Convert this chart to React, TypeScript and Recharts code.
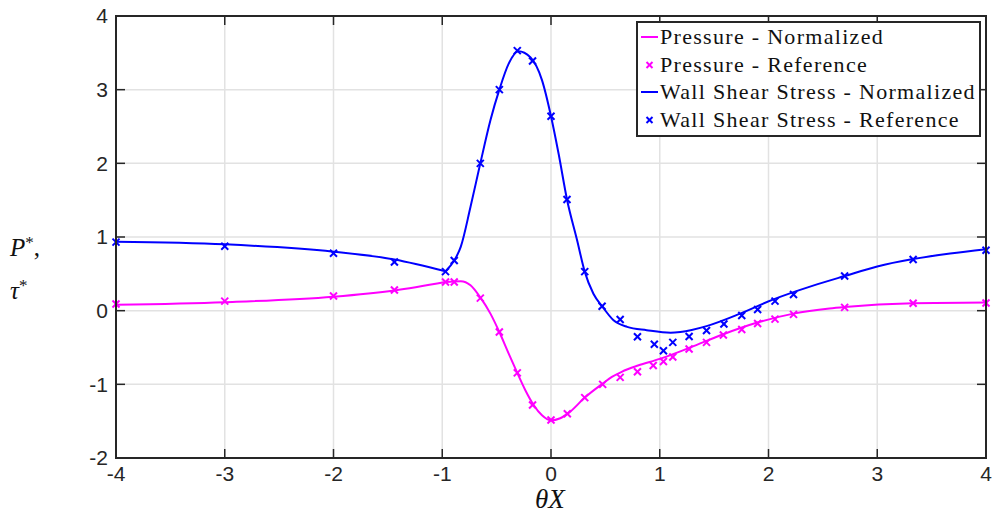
import {
  CartesianGrid,
  ComposedChart,
  Line,
  Scatter,
  XAxis,
  YAxis,
} from "recharts";

const xTicks = [-4, -3, -2, -1, 0, 1, 2, 3, 4];
const yTicks = [-2, -1, 0, 1, 2, 3, 4];

// Wall shear stress, normalized curve (split at the kink near x = -0.97)
const shearLineLeft = [
  { x: -4, y: 0.935 },
  { x: -3, y: 0.9 },
  { x: -2, y: 0.8 },
  { x: -1.44, y: 0.695 },
  { x: -0.97, y: 0.535 },
];
const shearLineRight = [
  { x: -0.97, y: 0.535 },
  { x: -0.89, y: 0.68 },
  { x: -0.83, y: 0.865 },
  { x: -0.74, y: 1.41 },
  { x: -0.65, y: 2.0 },
  { x: -0.557, y: 2.585 },
  { x: -0.475, y: 3.0 },
  { x: -0.39, y: 3.35 },
  { x: -0.3, y: 3.52 },
  { x: -0.19, y: 3.44 },
  { x: -0.083, y: 3.13 },
  { x: 0, y: 2.64 },
  { x: 0.07, y: 2.13 },
  { x: 0.147, y: 1.51 },
  { x: 0.24, y: 0.957 },
  { x: 0.31, y: 0.53 },
  { x: 0.39, y: 0.23 },
  { x: 0.47, y: 0.06 },
  { x: 0.575, y: -0.13 },
  { x: 0.7, y: -0.22 },
  { x: 0.88, y: -0.265 },
  { x: 1.1, y: -0.3 },
  { x: 1.19, y: -0.29 },
  { x: 1.43, y: -0.21 },
  { x: 1.74, y: -0.04 },
  { x: 2.04, y: 0.15 },
  { x: 2.41, y: 0.34 },
  { x: 2.7, y: 0.47 },
  { x: 3.0, y: 0.6 },
  { x: 3.33, y: 0.7 },
  { x: 3.67, y: 0.776 },
  { x: 4, y: 0.835 },
];
const shearRef = [
  { x: -4, y: 0.93 },
  { x: -3, y: 0.875 },
  { x: -2, y: 0.78 },
  { x: -1.44, y: 0.66 },
  { x: -0.97, y: 0.53 },
  { x: -0.89, y: 0.68 },
  { x: -0.65, y: 2.0 },
  { x: -0.475, y: 3.0 },
  { x: -0.31, y: 3.53 },
  { x: -0.17, y: 3.39 },
  { x: 0, y: 2.64 },
  { x: 0.147, y: 1.51 },
  { x: 0.31, y: 0.53 },
  { x: 0.47, y: 0.06 },
  { x: 0.636, y: -0.12 },
  { x: 0.795, y: -0.355 },
  { x: 0.95, y: -0.455 },
  { x: 1.034, y: -0.545 },
  { x: 1.12, y: -0.43 },
  { x: 1.27, y: -0.35 },
  { x: 1.43, y: -0.27 },
  { x: 1.59, y: -0.18 },
  { x: 1.754, y: -0.065 },
  { x: 1.9, y: 0.016 },
  { x: 2.06, y: 0.13 },
  { x: 2.23, y: 0.22 },
  { x: 2.7, y: 0.47 },
  { x: 3.33, y: 0.695 },
  { x: 4, y: 0.82 },
];

// Pressure, normalized curve
const pressureLineLeft = [
  { x: -4, y: 0.08 },
  { x: -3, y: 0.115 },
  { x: -2, y: 0.19 },
  { x: -1.44, y: 0.275 },
  { x: -0.97, y: 0.39 },
];
const pressureLineRight = [
  { x: -0.97, y: 0.39 },
  { x: -0.83, y: 0.4 },
  { x: -0.74, y: 0.345 },
  { x: -0.65, y: 0.18 },
  { x: -0.557, y: -0.04 },
  { x: -0.475, y: -0.29 },
  { x: -0.39, y: -0.58 },
  { x: -0.31, y: -0.845 },
  { x: -0.236, y: -1.08 },
  { x: -0.16, y: -1.28 },
  { x: -0.083, y: -1.42 },
  { x: 0, y: -1.49 },
  { x: 0.085, y: -1.46 },
  { x: 0.177, y: -1.37 },
  { x: 0.31, y: -1.18 },
  { x: 0.475, y: -0.99 },
  { x: 0.56, y: -0.9 },
  { x: 0.65, y: -0.83 },
  { x: 0.8, y: -0.745 },
  { x: 1.0, y: -0.655 },
  { x: 1.28, y: -0.5 },
  { x: 1.585, y: -0.32 },
  { x: 1.89, y: -0.165 },
  { x: 2.23, y: -0.04 },
  { x: 2.56, y: 0.03 },
  { x: 2.7, y: 0.05 },
  { x: 3.33, y: 0.1 },
  { x: 4, y: 0.11 },
];
const pressureRef = [
  { x: -4, y: 0.09 },
  { x: -3, y: 0.13 },
  { x: -2, y: 0.2 },
  { x: -1.44, y: 0.28 },
  { x: -0.97, y: 0.39 },
  { x: -0.89, y: 0.39 },
  { x: -0.65, y: 0.17 },
  { x: -0.475, y: -0.29 },
  { x: -0.31, y: -0.845 },
  { x: -0.17, y: -1.28 },
  { x: 0, y: -1.485 },
  { x: 0.15, y: -1.4 },
  { x: 0.31, y: -1.18 },
  { x: 0.475, y: -1.0 },
  { x: 0.636, y: -0.905 },
  { x: 0.795, y: -0.83 },
  { x: 0.94, y: -0.745 },
  { x: 1.034, y: -0.69 },
  { x: 1.12, y: -0.63 },
  { x: 1.27, y: -0.52 },
  { x: 1.43, y: -0.43 },
  { x: 1.585, y: -0.33 },
  { x: 1.754, y: -0.255 },
  { x: 1.9, y: -0.175 },
  { x: 2.06, y: -0.115 },
  { x: 2.23, y: -0.05 },
  { x: 2.7, y: 0.045 },
  { x: 3.33, y: 0.1 },
  { x: 4, y: 0.105 },
];

const MAGENTA = "#ff00ff";
const BLUE = "#0000ff";
const AXIS = "#262626";
const serif = "'Liberation Serif', 'DejaVu Serif', serif";

// plot box (margin + axis sizes below)
const W = 995;
const H = 518;
const MARGIN = { top: 16, right: 9, left: 0, bottom: 0 };
const Y_AXIS_W = 116;
const X_AXIS_H = 60;
const plotLeft = MARGIN.left + Y_AXIS_W;
const plotRight = W - MARGIN.right;
const plotTop = MARGIN.top;
const plotBottom = H - MARGIN.bottom - X_AXIS_H;

function xMark(color: string, r: number) {
  return (props: any) => {
    const { cx, cy } = props;
    if (cx == null || cy == null) return <g />;
    return (
      <g stroke={color} strokeWidth={2}>
        <line x1={cx - r} y1={cy - r} x2={cx + r} y2={cy + r} />
        <line x1={cx - r} y1={cy + r} x2={cx + r} y2={cy - r} />
      </g>
    );
  };
}

// MATLAB-style box: dark frame around the plot with inward ticks on top and right
function BoxEdges() {
  const px = (v: number) => plotLeft + ((v + 4) / 8) * (plotRight - plotLeft);
  const py = (v: number) => plotBottom - ((v + 2) / 6) * (plotBottom - plotTop);
  return (
    <>
      <div
        style={{
          position: "absolute",
          left: plotLeft - 1,
          top: plotTop - 1,
          width: plotRight - plotLeft + 2,
          height: plotBottom - plotTop + 2,
          border: `2px solid ${AXIS}`,
          boxSizing: "border-box",
          zIndex: 2,
          pointerEvents: "none",
        }}
      />
      <svg
        width={W}
        height={H}
        style={{ position: "absolute", left: 0, top: 0, zIndex: 2, pointerEvents: "none" }}
      >
        <g stroke={AXIS} strokeWidth={1.5} fill="none">
          {xTicks.map((t) => (
            <line key={`t${t}`} x1={px(t)} y1={plotTop} x2={px(t)} y2={plotTop + 9} />
          ))}
          {yTicks.map((t) => (
            <line key={`r${t}`} x1={plotRight} y1={py(t)} x2={plotRight - 9} y2={py(t)} />
          ))}
        </g>
      </svg>
    </>
  );
}

function LegendRow({ kind, color, label }: { kind: "line" | "mark"; color: string; label: string }) {
  return (
    <div style={{ display: "flex", alignItems: "center", height: 27.7 }}>
      <svg width={22} height={20} style={{ flex: "none" }}>
        {kind === "line" ? (
          <line x1={3} y1={10} x2={20} y2={10} stroke={color} strokeWidth={2} />
        ) : (
          <g stroke={color} strokeWidth={2}>
            <line x1={8.5} y1={7} x2={14.5} y2={13} />
            <line x1={8.5} y1={13} x2={14.5} y2={7} />
          </g>
        )}
      </svg>
      <span>{label}</span>
    </div>
  );
}

export default function App() {
  const tickStyle = { fontSize: 21, fill: AXIS, fontFamily: "'Liberation Sans', Arial, sans-serif" };
  return (
    <div style={{ position: "absolute", left: 0, top: 0, width: W, height: H, background: "#fff" }}>
      <ComposedChart width={W} height={H} margin={MARGIN}>
        <CartesianGrid stroke="#e2e2e2" strokeWidth={1.5} />
        <XAxis
          dataKey="x"
          type="number"
          domain={[-4, 4]}
          ticks={xTicks}
          height={X_AXIS_H}
          tickSize={-9}
          tickMargin={17}
          tick={tickStyle}
          stroke={AXIS}
          strokeWidth={1.5}
        />
        <YAxis
          dataKey="y"
          type="number"
          domain={[-2, 4]}
          ticks={yTicks}
          width={Y_AXIS_W}
          tickSize={-9}
          tickMargin={17}
          tick={tickStyle}
          stroke={AXIS}
          strokeWidth={1.5}
        />
        <Line data={pressureLineLeft} dataKey="y" type="monotone" stroke={MAGENTA} strokeWidth={2} dot={false} isAnimationActive={false} />
        <Line data={pressureLineRight} dataKey="y" type="monotone" stroke={MAGENTA} strokeWidth={2} dot={false} isAnimationActive={false} />
        <Line data={shearLineLeft} dataKey="y" type="monotone" stroke={BLUE} strokeWidth={2} dot={false} isAnimationActive={false} />
        <Line data={shearLineRight} dataKey="y" type="monotone" stroke={BLUE} strokeWidth={2} dot={false} isAnimationActive={false} />
        <Scatter data={pressureRef} dataKey="y" shape={xMark(MAGENTA, 3.5)} isAnimationActive={false} />
        <Scatter data={shearRef} dataKey="y" shape={xMark(BLUE, 3.5)} isAnimationActive={false} />
      </ComposedChart>

      <BoxEdges />

      <div
        style={{
          position: "absolute",
          left: 636,
          top: 21,
          width: 341,
          height: 112,
          border: "2px solid #262626",
          background: "#fff",
          fontFamily: serif,
          fontSize: 22,
          letterSpacing: 1.3,
          color: "#111",
          lineHeight: 1,
          whiteSpace: "nowrap",
          zIndex: 3,
        }}
      >
        <LegendRow kind="line" color={MAGENTA} label="Pressure - Normalized" />
        <LegendRow kind="mark" color={MAGENTA} label="Pressure - Reference" />
        <LegendRow kind="line" color={BLUE} label="Wall Shear Stress - Normalized" />
        <LegendRow kind="mark" color={BLUE} label="Wall Shear Stress - Reference" />
      </div>

      <div
        style={{
          position: "absolute",
          left: 10,
          top: 224,
          fontFamily: serif,
          fontStyle: "italic",
          fontSize: 25,
          lineHeight: "38px",
          color: "#111",
        }}
      >
        <div>
          P<sup style={{ fontSize: 17, fontStyle: "normal", verticalAlign: 8 }}>*</sup>
          <span style={{ fontStyle: "normal" }}>,</span>
        </div>
        <div>
          τ<sup style={{ fontSize: 17, fontStyle: "normal", verticalAlign: 8 }}>*</sup>
        </div>
      </div>

      <div
        style={{
          position: "absolute",
          left: 500,
          width: 100,
          top: 484,
          textAlign: "center",
          fontFamily: serif,
          fontStyle: "italic",
          fontSize: 27,
          color: "#111",
        }}
      >
        θX
      </div>
    </div>
  );
}
